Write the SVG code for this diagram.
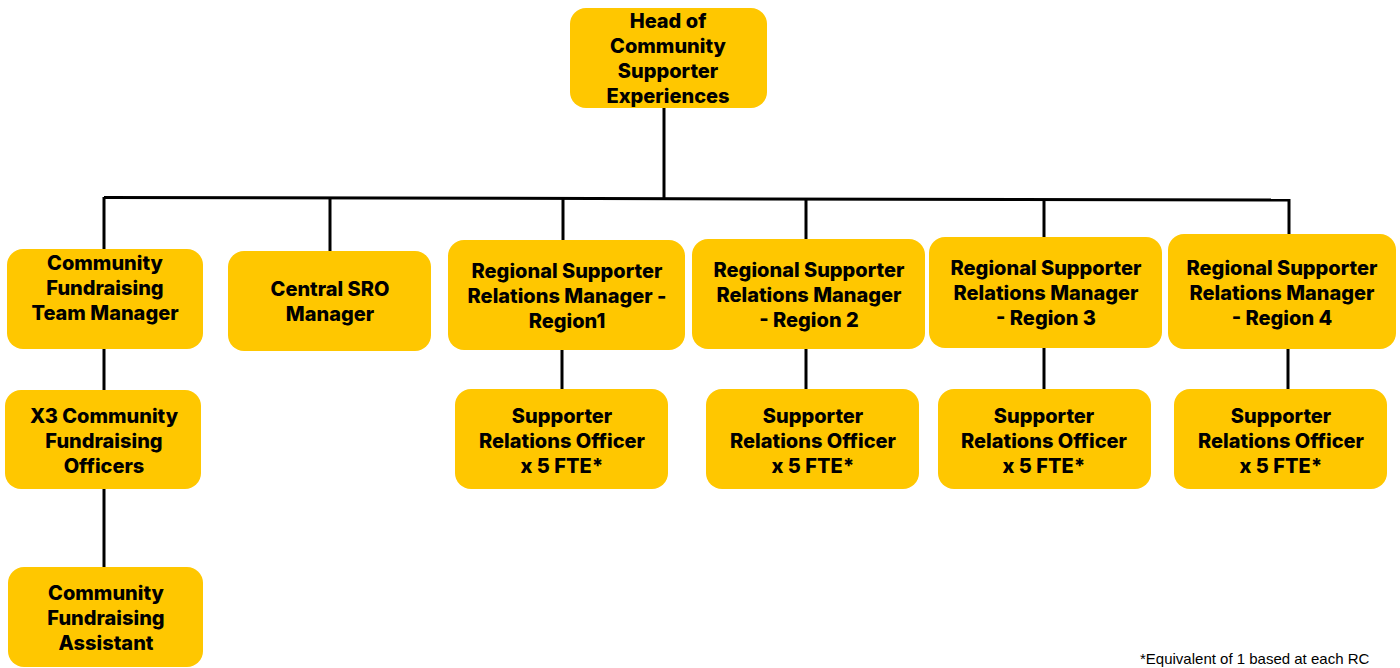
<svg xmlns="http://www.w3.org/2000/svg" width="1400" height="668" viewBox="0 0 1400 668">
<style>
.box{fill:#FFC700;}
.t{font-family:Inter,"Noto Sans",sans-serif;font-weight:800;font-size:20px;fill:#000;text-anchor:middle;}
.c{stroke:#000;stroke-width:3;fill:none;}
.fn{font-family:"Liberation Sans",Arial,sans-serif;font-size:15px;fill:#000;}
</style>
<rect width="1400" height="668" fill="#fff"/>
<g id="connectors">
<line class="c" x1="664" y1="108" x2="664" y2="198"/>
<line class="c" x1="104" y1="197.5" x2="1290" y2="200"/>
<line class="c" x1="104" y1="197" x2="104" y2="567"/>
<line class="c" x1="330" y1="198" x2="330" y2="251"/>
<line class="c" x1="563" y1="198" x2="563" y2="240"/>
<line class="c" x1="806" y1="199" x2="806" y2="239"/>
<line class="c" x1="1044" y1="199" x2="1044" y2="237"/>
<line class="c" x1="1289" y1="199" x2="1289" y2="234"/>
<line class="c" x1="562" y1="350" x2="562" y2="389"/>
<line class="c" x1="806" y1="349" x2="806" y2="389"/>
<line class="c" x1="1044" y1="348" x2="1044" y2="389"/>
<line class="c" x1="1288" y1="349" x2="1288" y2="389"/>
</g>
<g id="head">
<rect class="box" x="570" y="8" width="197" height="100" rx="16"/>
<text class="t"><tspan x="668" y="28">Head of</tspan><tspan x="668" y="53">Community</tspan><tspan x="668" y="78">Supporter</tspan><tspan x="668" y="103">Experiences</tspan></text>
</g>
<g id="cf-team-manager">
<rect class="box" x="7" y="249" width="196" height="100" rx="16"/>
<text class="t"><tspan x="105" y="270">Community</tspan><tspan x="105" y="295">Fundraising</tspan><tspan x="105" y="320">Team Manager</tspan></text>
</g>
<g id="central-sro">
<rect class="box" x="228" y="251" width="203" height="100" rx="16"/>
<text class="t"><tspan x="330" y="296">Central SRO</tspan><tspan x="330" y="321">Manager</tspan></text>
</g>
<g id="rsrm1">
<rect class="box" x="448" y="240" width="237" height="110" rx="16"/>
<text class="t"><tspan x="567" y="278">Regional Supporter</tspan><tspan x="567" y="303">Relations Manager -</tspan><tspan x="567" y="328">Region1</tspan></text>
</g>
<g id="rsrm2">
<rect class="box" x="692" y="239" width="233" height="110" rx="16"/>
<text class="t"><tspan x="809" y="277">Regional Supporter</tspan><tspan x="809" y="302">Relations Manager</tspan><tspan x="809" y="327">- Region 2</tspan></text>
</g>
<g id="rsrm3">
<rect class="box" x="929" y="237" width="233" height="111" rx="16"/>
<text class="t"><tspan x="1046" y="275">Regional Supporter</tspan><tspan x="1046" y="300">Relations Manager</tspan><tspan x="1046" y="325">- Region 3</tspan></text>
</g>
<g id="rsrm4">
<rect class="box" x="1168" y="234" width="228" height="115" rx="16"/>
<text class="t"><tspan x="1282" y="275">Regional Supporter</tspan><tspan x="1282" y="300">Relations Manager</tspan><tspan x="1282" y="325">- Region 4</tspan></text>
</g>
<g id="cf-officers">
<rect class="box" x="5" y="390" width="196" height="99" rx="16"/>
<text class="t"><tspan x="104" y="423">X3 Community</tspan><tspan x="104" y="448">Fundraising</tspan><tspan x="104" y="473">Officers</tspan></text>
</g>
<g id="cf-assistant">
<rect class="box" x="8" y="567" width="195" height="100" rx="16"/>
<text class="t"><tspan x="106" y="600">Community</tspan><tspan x="106" y="625">Fundraising</tspan><tspan x="106" y="650">Assistant</tspan></text>
</g>
<g id="sro1">
<rect class="box" x="455" y="389" width="213" height="100" rx="16"/>
<text class="t"><tspan x="562" y="423">Supporter</tspan><tspan x="562" y="448">Relations Officer</tspan><tspan x="562" y="473">x 5 FTE*</tspan></text>
</g>
<g id="sro2">
<rect class="box" x="706" y="389" width="213" height="100" rx="16"/>
<text class="t"><tspan x="813" y="423">Supporter</tspan><tspan x="813" y="448">Relations Officer</tspan><tspan x="813" y="473">x 5 FTE*</tspan></text>
</g>
<g id="sro3">
<rect class="box" x="938" y="389" width="213" height="100" rx="16"/>
<text class="t"><tspan x="1044" y="423">Supporter</tspan><tspan x="1044" y="448">Relations Officer</tspan><tspan x="1044" y="473">x 5 FTE*</tspan></text>
</g>
<g id="sro4">
<rect class="box" x="1174" y="389" width="213" height="100" rx="16"/>
<text class="t"><tspan x="1281" y="423">Supporter</tspan><tspan x="1281" y="448">Relations Officer</tspan><tspan x="1281" y="473">x 5 FTE*</tspan></text>
</g>
<text class="fn" x="1140" y="664">*Equivalent  of 1 based at each RC</text>
</svg>
